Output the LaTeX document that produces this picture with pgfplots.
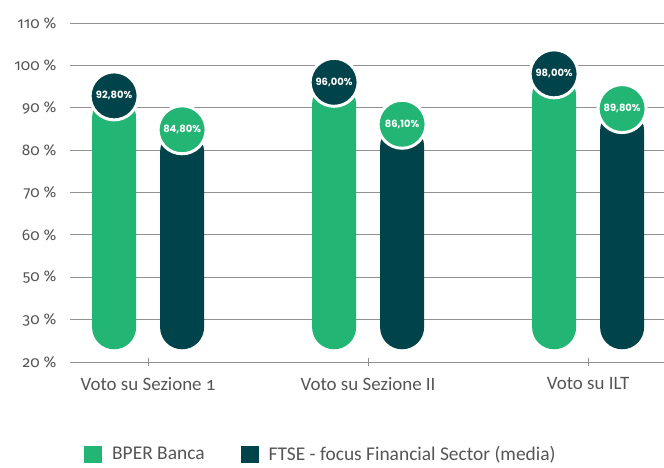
\documentclass[border=0pt]{standalone}
\usepackage{pgfplots}
\pgfplotsset{compat=1.18}
\usepackage{pgfplotstable}
\usepackage{fontspec}
\setmainfont{Carlito}[Numbers=OldStyle]
\newfontfamily\tickfont[Numbers=OldStyle]{Fira Sans}
\newfontfamily\labfont{Poppins}

\definecolor{bper}{RGB}{35,181,116}
\definecolor{ftse}{RGB}{0,67,74}
\definecolor{gridgray}{RGB}{145,145,145}
\definecolor{txtgray}{RGB}{85,85,85}

% values in %, categories at 0,1,2
\pgfplotstableread{
x v lab
0 92.8 92,80\%
1 96.0 96,00\%
2 98.0 98,00\%
}\tblbper
\pgfplotstableread{
x v lab
0 84.8 84,80\%
1 86.1 86,10\%
2 89.8 89,80\%
}\tblftse

\begin{document}
\begin{tikzpicture}
\useasboundingbox (0,0) rectangle (664bp,468bp);
\begin{axis}[
    at={(70bp,106bp)}, anchor=south west,
    scale only axis, width=594bp, height=339bp,
    xmin=-0.355, xmax=2.345, ymin=-3, ymax=77,
    y filter/.expression={y-33},
    clip=false,
    axis x line*=bottom, axis y line*=left,
    y axis line style={draw=none},
    x axis line style={gridgray, line width=0.8bp},
    xtick={0,1,2},
    xticklabels={Voto su Sezione 1, Voto su Sezione II, Voto su ILT},
    xtick align=center, major tick length=8bp,
    xtick style={gridgray, line width=0.8bp},
    ytick={-3,7,17,27,37,47,57,67,77},
    yticklabels={20 \%,30 \%,50 \%,60 \%,70 \%,80 \%,90 \%,100 \%,110 \%},
    ytick style={draw=none},
    ymajorgrids, grid style={gridgray, line width=0.8bp},
    yticklabel style={font=\tickfont\fontsize{15.5}{15.5}\selectfont, text=txtgray, xshift=-10bp},
    xticklabel style={font=\fontsize{19}{19}\selectfont, text=txtgray, yshift=-8bp},
    legend columns=2,
    legend style={at={(0.0185,-0.272)}, anchor=west, draw=none,
        font=\fontsize{19.5}{19.5}\selectfont, text=txtgray,
        /tikz/every odd column/.append style={column sep=8bp},
        /tikz/every even column/.append style={column sep=34bp}},
    legend image code/.code={\fill[#1, rounded corners=0pt] (0bp,-8.5bp) rectangle (18bp,8.5bp);},
]
\addplot[ybar, bar width=44bp, bar shift=-34bp, fill=bper, draw=none, rounded corners=22bp]
    table[x=x, y=v]{\tblbper};
\addlegendentry{BPER Banca}
\addplot[ybar, bar width=44bp, bar shift=34bp, fill=ftse, draw=none, rounded corners=22bp]
    table[x=x, y=v]{\tblftse};
\addlegendentry{FTSE - focus Financial Sector (media)}

\addplot[only marks, mark=*, mark size=24bp, forget plot,
    mark options={fill=ftse, draw=white, line width=3bp},
    x filter/.expression={x-0.1545},
    point meta=explicit symbolic, nodes near coords,
    every node near coord/.append style={anchor=center, text=white,
        font=\labfont\bfseries\fontsize{10}{10}\selectfont}]
    table[x=x, y=v, meta=lab]{\tblbper};
\addplot[only marks, mark=*, mark size=24bp, forget plot,
    mark options={fill=bper, draw=white, line width=3bp},
    x filter/.expression={x+0.1545},
    point meta=explicit symbolic, nodes near coords,
    every node near coord/.append style={anchor=center, text=white,
        font=\labfont\bfseries\fontsize{10}{10}\selectfont}]
    table[x=x, y=v, meta=lab]{\tblftse};
\end{axis}
\end{tikzpicture}
\end{document}
